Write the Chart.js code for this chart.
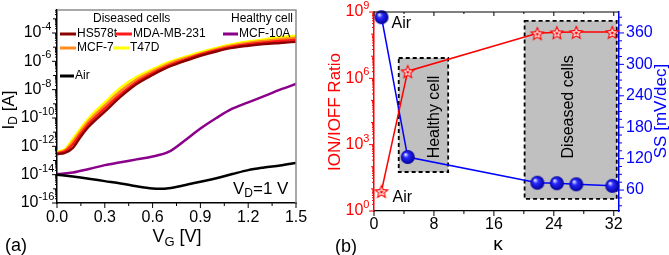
<!DOCTYPE html>
<html>
<head>
<meta charset="utf-8">
<script src="https://cdn.jsdelivr.net/npm/chart.js@4"></script>
<style>
  html, body { margin: 0; padding: 0; background: #fff; }
  #wrap { position: relative; width: 669px; height: 255px; overflow: hidden; }
  canvas { position: absolute; top: 0; }
  #chartA { left: 0; }
  #chartB { left: 320px; }
</style>
</head>
<body>
<div id="wrap">
  <canvas id="chartA" width="320" height="255"></canvas>
  <canvas id="chartB" width="349" height="255"></canvas>
</div>
<script>
// ---- panel (a): transfer curves, I_D vs V_G ----
const vgDiseased = [0, 0.05, 0.1, 0.15, 0.2, 0.3, 0.4, 0.5, 0.6, 0.7, 0.8, 0.9, 1.0, 1.1, 1.2, 1.3, 1.4, 1.5];
const idT47D   = [4.0e-13, 6.3e-13, 3.5e-12, 2.0e-11, 1.0e-10, 1.26e-9, 1.4e-8, 7.9e-8, 2.8e-7, 8.9e-7, 2.0e-6, 4.5e-6, 8.9e-6, 1.6e-5, 2.5e-5, 3.5e-5, 5.0e-5, 6.3e-5];
const idMCF7   = [3.5e-13, 5.2e-13, 2.2e-12, 1.26e-11, 6.3e-11, 7.6e-10, 8.3e-9, 5.2e-8, 2.0e-7, 6.6e-7, 1.6e-6, 3.5e-6, 7.2e-6, 1.3e-5, 2.0e-5, 2.75e-5, 3.6e-5, 4.6e-5];
const idMDA    = [3.2e-13, 4.4e-13, 1.4e-12, 7.9e-12, 4.0e-11, 4.7e-10, 5.0e-9, 3.5e-8, 1.5e-7, 5.0e-7, 1.26e-6, 3.0e-6, 6.0e-6, 1.07e-5, 1.6e-5, 2.1e-5, 2.7e-5, 3.3e-5];
const idHS578t = [2.8e-13, 3.5e-13, 7.9e-13, 5.0e-12, 2.5e-11, 2.8e-10, 3.2e-9, 2.5e-8, 1.1e-7, 4.0e-7, 1.05e-6, 2.5e-6, 5.0e-6, 8.9e-6, 1.26e-5, 1.66e-5, 2.0e-5, 2.4e-5];
const vgHealthy = [0, 0.1, 0.2, 0.3, 0.4, 0.5, 0.6, 0.7, 0.8, 0.9, 1.0, 1.1, 1.2, 1.3, 1.4, 1.5];
const idMCF10A = [1.1e-14, 1.4e-14, 2.5e-14, 4.7e-14, 7.6e-14, 1.2e-13, 1.9e-13, 4.0e-13, 2.5e-12, 1.8e-11, 1.0e-10, 4.5e-10, 1.26e-9, 3.5e-9, 1.0e-8, 2.5e-8];
const vgAir = [0, 0.1, 0.2, 0.3, 0.4, 0.5, 0.6, 0.65, 0.7, 0.8, 0.9, 1.0, 1.1, 1.2, 1.3, 1.4, 1.5];
const idAir = [1.0e-14, 7.4e-15, 5.2e-15, 3.5e-15, 2.4e-15, 1.5e-15, 1.05e-15, 1.0e-15, 1.1e-15, 1.8e-15, 3.2e-15, 5.6e-15, 1.1e-14, 2.1e-14, 3.2e-14, 4.5e-14, 6.8e-14];
const vgTicks = [0, 0.3, 0.6, 0.9, 1.2, 1.5];
const idTickExp = [-16, -14, -12, -10, -8, -6, -4];

// ---- panel (b): on/off ratio and SS vs kappa ----
const kappa = [1, 4.5, 21.8, 24.4, 27.0, 31.8];
const onOffRatio = [8, 2.1e6, 1.1e8, 1.2e8, 1.25e8, 1.25e8];
const ssValues = [390, 123, 74, 73, 71, 68];
const healthyBoxK = [3.3, 9.9];
const healthyBoxR = [58, 8.3e6];
const diseasedBoxK = [20.1, 32.4];
const diseasedBoxR = [3.5, 4e8];
const kappaTicks = [0, 8, 16, 24, 32];
const ratioTickExp = [0, 3, 6, 9];
const ssTicks = [60, 120, 180, 240, 300, 360];

const FONT = '"Liberation Sans", Arial, sans-serif';
Chart.defaults.font.family = FONT;

function setFont(ctx, size) { ctx.font = size + "px " + FONT; }

// parts: [text, size, dy]
function rich(ctx, parts, x, y, align, color) {
  let w = 0;
  for (const p of parts) { setFont(ctx, p[1]); w += ctx.measureText(p[0]).width; }
  let cx = align === "right" ? x - w : align === "center" ? x - w / 2 : x;
  ctx.fillStyle = color;
  ctx.textAlign = "left";
  ctx.textBaseline = "middle";
  for (const p of parts) {
    setFont(ctx, p[1]);
    ctx.fillText(p[0], cx, y + (p[2] || 0));
    cx += ctx.measureText(p[0]).width;
  }
}

function rotated(ctx, parts, x, y, color) {
  ctx.save();
  ctx.translate(x, y);
  ctx.rotate(-Math.PI / 2);
  rich(ctx, parts, 0, 0, "center", color);
  ctx.restore();
}

function seg(ctx, x1, y1, x2, y2) {
  ctx.beginPath();
  ctx.moveTo(x1, y1);
  ctx.lineTo(x2, y2);
  ctx.stroke();
}

function hidden(extra) {
  return Object.assign({
    ticks: { display: false },
    grid: { display: false },
  }, extra);
}

const colors = {
  hs578t: "#8b0000",
  mda: "#ff1a1a",
  mcf7: "#ff8c1a",
  t47d: "#ffff00",
  mcf10a: "#8b008b",
  air: "#000000",
};

function curve(xs, ys, color) {
  return {
    data: xs.map((v, i) => ({ x: v, y: ys[i] })),
    borderColor: color,
    borderWidth: 2.5,
    pointRadius: 0,
    cubicInterpolationMode: "monotone",
    fill: false,
  };
}

const panelA = {
  id: "panelA",
  afterDraw(chart) {
    const { ctx, chartArea: a } = chart;
    const sx = chart.scales.x;
    const sy = chart.scales.y;
    ctx.save();

    // grey top and right frame
    ctx.strokeStyle = "#8c8c8c";
    ctx.lineWidth = 1.5;
    ctx.beginPath();
    ctx.moveTo(a.left, a.top);
    ctx.lineTo(a.right, a.top);
    ctx.lineTo(a.right, a.bottom);
    ctx.stroke();

    ctx.strokeStyle = "#000";
    ctx.lineWidth = 1;
    vgTicks.forEach((v, i) => {
      const px = sx.getPixelForValue(v);
      seg(ctx, px, a.bottom, px, a.bottom + 5);
      if (i < vgTicks.length - 1) {
        const m = sx.getPixelForValue((v + vgTicks[i + 1]) / 2);
        seg(ctx, m, a.bottom, m, a.bottom + 3);
      }
      rich(ctx, [[v.toFixed(1), 16]], px, a.bottom + 15, "center", "#000");
    });

    for (let e = -16; e <= -3; e++) {
      for (let k = 1; k <= 9; k++) {
        const val = k * Math.pow(10, e);
        if (val > sy.max) break;
        const py = sy.getPixelForValue(val);
        const len = k === 1 ? (e % 2 === 0 ? 5 : 4) : 2;
        seg(ctx, a.left - len, py, a.left, py);
      }
    }
    idTickExp.forEach((e) => {
      const py = sy.getPixelForValue(Math.pow(10, e));
      rich(ctx, [["10", 16], [String(e), 11, -6]], 37.5, py, "center", "#000");
    });

    // axis titles
    rotated(ctx, [["I", 17], ["D", 12, 5], [" [A]", 17]], 9, 110, "#000");
    rich(ctx, [["V", 18], ["G", 13, 5], [" [V]", 18]], 177, 237, "center", "#000");
    rich(ctx, [["(a)", 18]], 5, 246, "left", "#000");

    // legend
    const ds = chart.data.datasets;
    const item = (x1, x2, y, color, label) => {
      ctx.strokeStyle = color;
      ctx.lineWidth = 3;
      seg(ctx, x1, y, x2, y);
      rich(ctx, [[label, 12]], x2 + 1, y, "left", "#000");
    };
    rich(ctx, [["Diseased cells", 12]], 93, 19, "left", "#000");
    rich(ctx, [["Healthy cell", 12]], 293, 19, "right", "#000");
    item(60, 76, 34, ds[2].borderColor, ds[2].label);
    item(115, 132, 34, ds[3].borderColor, ds[3].label);
    item(223, 238, 34, ds[1].borderColor, ds[1].label);
    item(60, 76, 48, ds[4].borderColor, ds[4].label);
    item(113, 129, 48, ds[5].borderColor, ds[5].label);
    item(60, 74, 76, ds[0].borderColor, ds[0].label);

    rich(ctx, [["V", 17], ["D", 12, 5], ["=1 V", 17]], 233, 189, "left", "#000");
    ctx.restore();
  },
};

new Chart(document.getElementById("chartA"), {
  type: "line",
  data: {
    datasets: [
      Object.assign(curve(vgAir, idAir, colors.air), { label: "Air" }),
      Object.assign(curve(vgHealthy, idMCF10A, colors.mcf10a), { label: "MCF-10A" }),
      Object.assign(curve(vgDiseased, idHS578t, colors.hs578t), { label: "HS578t" }),
      Object.assign(curve(vgDiseased, idMDA, colors.mda), { label: "MDA-MB-231" }),
      Object.assign(curve(vgDiseased, idMCF7, colors.mcf7), { label: "MCF-7" }),
      Object.assign(curve(vgDiseased, idT47D, colors.t47d), { label: "T47D" }),
    ],
  },
  options: {
    responsive: false,
    animation: false,
    devicePixelRatio: 1,
    layout: { padding: { left: 57, top: 10, right: 24, bottom: 52 } },
    plugins: { legend: { display: false }, title: { display: false }, tooltip: { enabled: false } },
    scales: {
      x: hidden({
        type: "linear", min: 0, max: 1.5,
        border: { color: "#000", width: 1.5 },
        afterFit: (s) => { s.height = 0; },
      }),
      y: hidden({
        type: "logarithmic", min: 1e-16, max: 4.2e-3,
        border: { color: "#000", width: 1.5 },
        afterFit: (s) => { s.width = 0; },
      }),
    },
  },
  plugins: [panelA],
});

// marker images for panel (b)
function starPath(g, cx, cy, r) {
  g.beginPath();
  for (let i = 0; i < 10; i++) {
    const rr = i % 2 === 0 ? r : r * 0.45;
    const ang = -Math.PI / 2 + i * Math.PI / 5;
    const px = cx + rr * Math.cos(ang);
    const py = cy + rr * Math.sin(ang);
    if (i === 0) g.moveTo(px, py); else g.lineTo(px, py);
  }
  g.closePath();
}

function makeStar(r) {
  const c = document.createElement("canvas");
  c.width = c.height = 2 * r + 4;
  const g = c.getContext("2d");
  const m = r + 2;
  starPath(g, m, m + 1, r); g.fillStyle = "#ff0000"; g.fill();
  starPath(g, m, m + 1, r * 0.62); g.fillStyle = "#ffffff"; g.fill();
  starPath(g, m, m + 1, r * 0.3); g.fillStyle = "#ff0000"; g.fill();
  return c;
}

function makeSphere(r) {
  const c = document.createElement("canvas");
  c.width = c.height = 2 * r + 2;
  const g = c.getContext("2d");
  const m = r + 1;
  const grad = g.createRadialGradient(m - r * 0.35, m - r * 0.4, r * 0.05, m, m, r);
  grad.addColorStop(0, "#eeeeff");
  grad.addColorStop(0.35, "#2a2aff");
  grad.addColorStop(1, "#00009a");
  g.fillStyle = grad;
  g.beginPath();
  g.arc(m, m, r, 0, 2 * Math.PI);
  g.fill();
  return c;
}

const starImg = makeStar(8);
const sphereImg = makeSphere(7);

const panelB = {
  id: "panelB",
  beforeDatasetsDraw(chart) {
    const { ctx } = chart;
    const sx = chart.scales.x;
    const sy = chart.scales.y;
    const box = (ks, rs) => {
      const x1 = sx.getPixelForValue(ks[0]);
      const x2 = sx.getPixelForValue(ks[1]);
      const y1 = sy.getPixelForValue(rs[1]);
      const y2 = sy.getPixelForValue(rs[0]);
      ctx.fillStyle = "#c0c0c0";
      ctx.fillRect(x1, y1, x2 - x1, y2 - y1);
      ctx.setLineDash([4, 3]);
      ctx.strokeStyle = "#000";
      ctx.lineWidth = 1.8;
      ctx.strokeRect(x1, y1, x2 - x1, y2 - y1);
      ctx.setLineDash([]);
    };
    ctx.save();
    box(healthyBoxK, healthyBoxR);
    box(diseasedBoxK, diseasedBoxR);
    rotated(ctx, [["Healthy cell", 16]], sx.getPixelForValue(8.1), (sy.getPixelForValue(healthyBoxR[0]) + sy.getPixelForValue(healthyBoxR[1])) / 2 + 2, "#000");
    rotated(ctx, [["Diseased cells", 16]], sx.getPixelForValue(26), (sy.getPixelForValue(diseasedBoxR[0]) + sy.getPixelForValue(diseasedBoxR[1])) / 2 - 3, "#000");
    ctx.restore();
  },
  afterDraw(chart) {
    const { ctx, chartArea: a } = chart;
    const sx = chart.scales.x;
    const sy = chart.scales.y;
    const s2 = chart.scales.y2;
    ctx.save();

    // top frame with inward ticks
    ctx.strokeStyle = "#000";
    ctx.lineWidth = 1;
    seg(ctx, a.left, a.top, a.right, a.top);
    for (let k = 0; k <= 32; k += 4) {
      const px = sx.getPixelForValue(k);
      seg(ctx, px, a.top, px, a.top + (k % 8 === 0 ? 4 : 2));
      seg(ctx, px, a.bottom, px, a.bottom + (k % 8 === 0 ? 5 : 3));
    }
    kappaTicks.forEach((k) => {
      rich(ctx, [[String(k), 16]], sx.getPixelForValue(k), a.bottom + 14, "center", "#000");
    });

    // left log axis (red)
    ctx.strokeStyle = "#ff0000";
    for (let e = 0; e <= 9; e++) {
      for (let k = 1; k <= 9; k++) {
        const val = k * Math.pow(10, e);
        if (val > sy.max) break;
        const py = sy.getPixelForValue(val);
        const len = k === 1 ? (e % 3 === 0 ? 5 : 3) : 2;
        seg(ctx, a.left - len, py, a.left, py);
      }
    }
    ratioTickExp.forEach((e) => {
      const py = sy.getPixelForValue(Math.pow(10, e));
      rich(ctx, [["10", 16], [String(e), 11, -6]], 37.5, py, "center", "#ff0000");
    });

    // right linear axis (blue)
    ctx.strokeStyle = "#0000ff";
    for (let v = 30; v <= 390; v += 15) {
      const py = s2.getPixelForValue(v);
      seg(ctx, a.right, py, a.right + (v % 60 === 0 ? 5 : 3), py);
    }
    ssTicks.forEach((v) => {
      rich(ctx, [[String(v), 16]], a.right + 7, s2.getPixelForValue(v), "left", "#0000ff");
    });

    rotated(ctx, [["ION/IOFF Ratio", 17]], 15, 112, "#ff0000");
    rotated(ctx, [["SS [mV/dec]", 17]], 341, 111, "#0000ff");
    rich(ctx, [["\u03ba", 19]], 178, 245, "center", "#000");
    rich(ctx, [["(b)", 18]], 15, 247, "left", "#000");

    // "Air" notes next to the first points
    const pStar = chart.getDatasetMeta(0).data[0];
    const pBall = chart.getDatasetMeta(1).data[0];
    rich(ctx, [["Air", 16]], pBall.x + 10, pBall.y + 6, "left", "#000");
    rich(ctx, [["Air", 16]], pStar.x + 11, pStar.y + 7, "left", "#000");
    ctx.restore();
  },
};

new Chart(document.getElementById("chartB"), {
  type: "line",
  data: {
    datasets: [
      {
        label: "ION/IOFF",
        data: kappa.map((k, i) => ({ x: k, y: onOffRatio[i] })),
        yAxisID: "y",
        borderColor: "#ff0000",
        borderWidth: 1.5,
        pointStyle: starImg,
        pointRadius: 7,
        clip: false,
      },
      {
        label: "SS",
        data: kappa.map((k, i) => ({ x: k, y: ssValues[i] })),
        yAxisID: "y2",
        borderColor: "#0000ff",
        borderWidth: 1.5,
        pointStyle: sphereImg,
        pointRadius: 7,
        clip: false,
      },
    ],
  },
  options: {
    responsive: false,
    animation: false,
    devicePixelRatio: 1,
    layout: { padding: { left: 54, top: 12, right: 50, bottom: 44 } },
    plugins: { legend: { display: false }, title: { display: false }, tooltip: { enabled: false } },
    scales: {
      x: hidden({
        type: "linear", min: 0, max: 32.7,
        border: { color: "#000", width: 1.2 },
        afterFit: (s) => { s.height = 0; },
      }),
      y: hidden({
        type: "logarithmic", position: "left", min: 1, max: 1e9,
        border: { color: "#ff0000", width: 1.5 },
        afterFit: (s) => { s.width = 0; },
      }),
      y2: hidden({
        type: "linear", position: "right", min: 20, max: 400,
        border: { color: "#0000ff", width: 1.5 },
        afterFit: (s) => { s.width = 0; },
      }),
    },
  },
  plugins: [panelB],
});
</script>
</body>
</html>
